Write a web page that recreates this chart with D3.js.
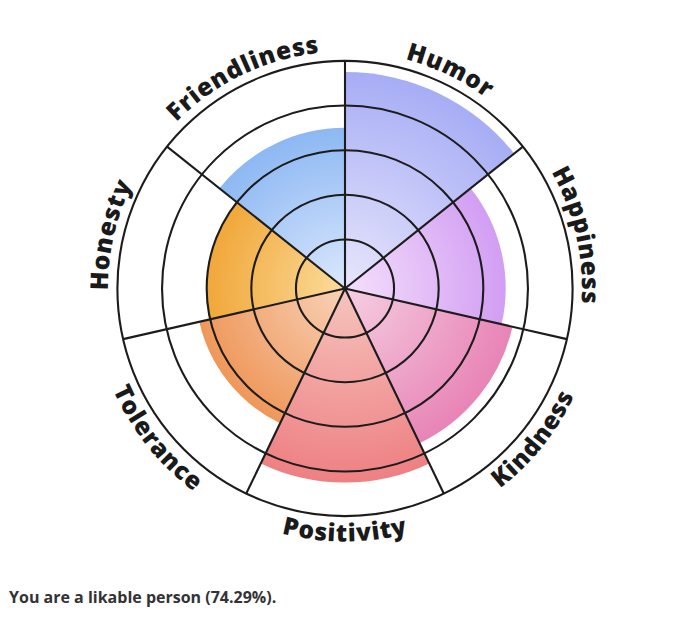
<!DOCTYPE html>
<html>
<head>
<meta charset="utf-8">
<script src="https://cdn.jsdelivr.net/npm/d3@7"></script>
<style>
  html, body { margin: 0; padding: 0; background: #fff; }
  svg { display: block; }
</style>
</head>
<body>
<svg id="chart" width="680" height="621"></svg>
<script>
// ---- data ----
const categories = ["Humor", "Happiness", "Kindness", "Positivity", "Tolerance", "Honesty", "Friendliness"];
const values = [95, 70, 75, 85, 65, 60, 70];
const gridTicks = [20, 40, 60, 80, 100];
const summaryLabel = "You are a likable person";

// ---- styles ----
const outerColors = ["#a7adf5", "#d29ef3", "#e884b6", "#ee8083", "#ef975a", "#f1a73a", "#8db8f3"];
const innerColors = ["#e8e6fc", "#f4e0fb", "#f5cfe2", "#f6c4bd", "#f8d2b8", "#fbdc9c", "#dbe8fd"];

const W = 680, H = 621;
const cx = 345, cy = 288.5;
const svg = d3.select("#chart");
const defs = svg.append("defs");

const r = d3.scaleLinear().domain([0, 100]).range([4.4, 227.6]);
const n = categories.length;
const angle = d3.scaleLinear().domain([0, n]).range([0, 2 * Math.PI]);

const g = svg.append("g").attr("transform", `translate(${cx},${cy})`);

// gradients
values.forEach((v, i) => {
  const grad = defs.append("radialGradient")
    .attr("id", "grad" + i)
    .attr("gradientUnits", "userSpaceOnUse")
    .attr("cx", 0).attr("cy", 0).attr("r", r(v));
  grad.append("stop").attr("offset", "0%").attr("stop-color", innerColors[i]);
  grad.append("stop").attr("offset", "100%").attr("stop-color", outerColors[i]);
});

// bars
const arc = d3.arc();
g.selectAll("path.bar")
  .data(values)
  .join("path")
  .attr("class", "bar")
  .attr("d", (v, i) => arc({ innerRadius: 0, outerRadius: r(v), startAngle: angle(i), endAngle: angle(i + 1) }))
  .attr("fill", (v, i) => `url(#grad${i})`);

// grid circles
g.selectAll("circle.grid")
  .data(gridTicks)
  .join("circle")
  .attr("class", "grid")
  .attr("r", d => r(d))
  .attr("fill", "none")
  .attr("stroke", "#1c1c1c")
  .attr("stroke-width", 2.1);

// spokes
g.selectAll("line.spoke")
  .data(d3.range(n))
  .join("line")
  .attr("class", "spoke")
  .attr("x1", 0).attr("y1", 0)
  .attr("x2", i => r(100) * Math.sin(angle(i)))
  .attr("y2", i => -r(100) * Math.cos(angle(i)))
  .attr("stroke", "#1c1c1c")
  .attr("stroke-width", 2.1);

// curved labels
function pt(a, R) { return [R * Math.sin(a), -R * Math.cos(a)]; }
categories.forEach((c, i) => {
  const a0 = angle(i), a1 = angle(i + 1);
  const mid = (a0 + a1) / 2;
  const flipped = mid > Math.PI / 2 && mid < 3 * Math.PI / 2;
  let d;
  if (!flipped) {
    const R = 237;
    const p0 = pt(a0, R), p1 = pt(a1, R);
    d = `M${p0[0]},${p0[1]} A${R},${R} 0 0 1 ${p1[0]},${p1[1]}`;
  } else {
    const R = 253;
    const p0 = pt(a1, R), p1 = pt(a0, R);
    d = `M${p0[0]},${p0[1]} A${R},${R} 0 0 0 ${p1[0]},${p1[1]}`;
  }
  defs.append("path").attr("id", "lp" + i).attr("d", d).attr("transform", `translate(${cx},${cy})`);
  svg.append("text")
    .attr("font-family", "'Open Sans', sans-serif")
    .attr("font-weight", 800)
    .attr("font-size", 24.5)
    .attr("letter-spacing", 0.8)
    .attr("fill", "#1a1a1a")
    .append("textPath")
    .attr("href", "#lp" + i)
    .attr("startOffset", "50%")
    .attr("text-anchor", "middle")
    .text(c);
});

// summary text
const pct = d3.mean(values);
svg.append("text")
  .attr("x", 9)
  .attr("y", 603)
  .attr("font-family", "'Open Sans', sans-serif")
  .attr("font-weight", 700)
  .attr("font-size", 16)
  .attr("fill", "#333")
  .text(`${summaryLabel} (${d3.format(".2f")(pct)}%).`);
</script>
</body>
</html>
